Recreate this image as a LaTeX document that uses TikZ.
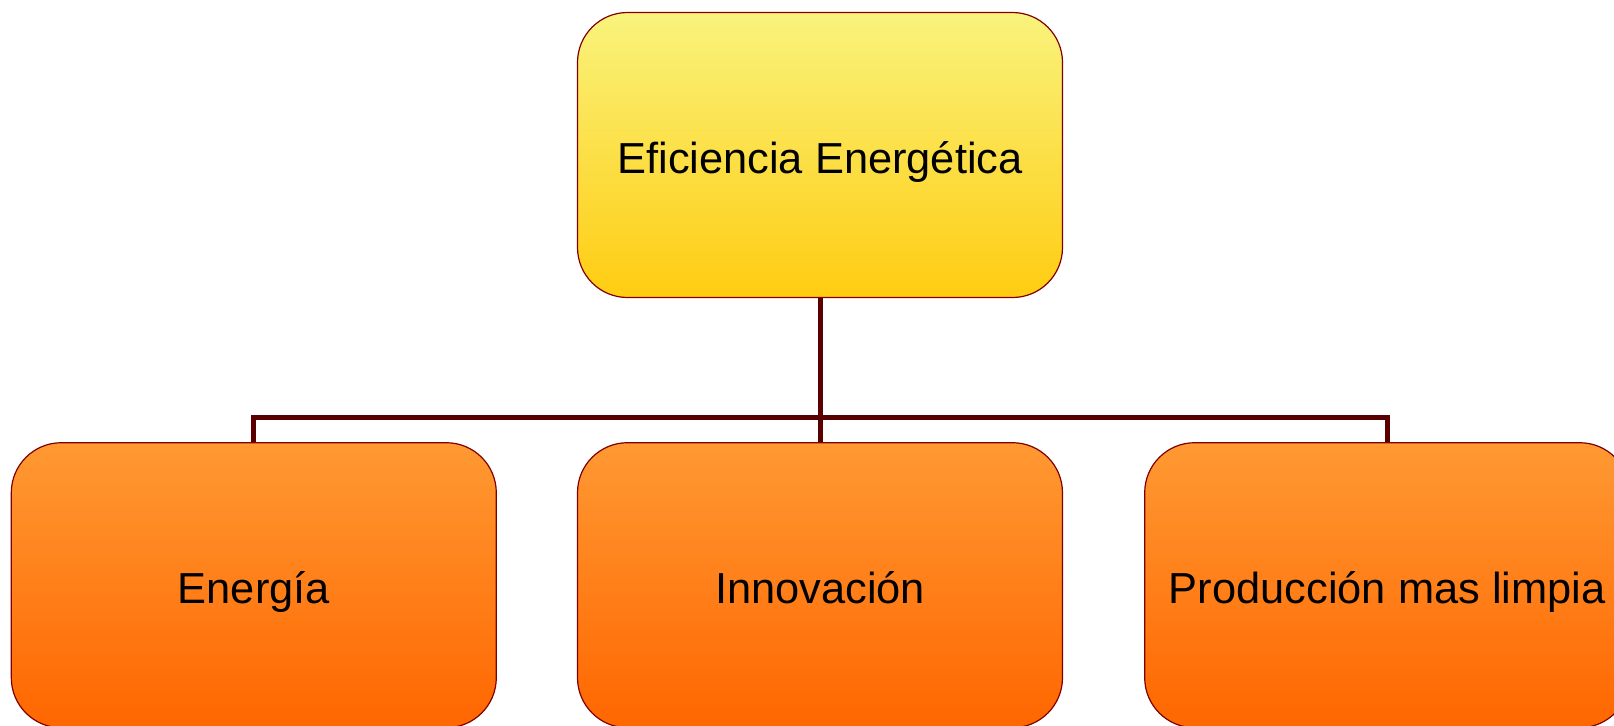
\documentclass[tikz,border=0pt]{standalone}
\usepackage{fontspec}
\setmainfont{Liberation Sans}
\usepackage{tikz}
\usetikzlibrary{positioning}
\definecolor{borde}{RGB}{128,0,0}
\definecolor{linea}{RGB}{90,0,0}
\definecolor{amarilloA}{RGB}{249,243,125}
\definecolor{amarilloB}{RGB}{255,204,17}
\definecolor{naranjaA}{RGB}{255,153,51}
\definecolor{naranjaB}{RGB}{255,102,0}

\begin{document}
\begin{tikzpicture}[node distance=72pt,
  box/.style={rectangle,rounded corners=25pt,draw=borde,line width=0.6pt,
    minimum width=242.5pt,minimum height=142.5pt,inner sep=0pt,
    text height=20pt,text depth=2pt,
    font=\fontsize{21.7}{26}\selectfont},
  main node/.style={box,top color=amarilloA,bottom color=amarilloB},
  child node/.style={box,top color=naranjaA,bottom color=naranjaB},
  link/.style={draw=linea,line width=2.5pt}]

  \useasboundingbox (0,0) rectangle (807pt,-362.5pt);

  \node[main node] (top) at (410pt,-77.5pt) {Eficiencia Energética};
  \node[child node] (innov) [below=of top] {Innovación};
  \node[child node] (energia) [left=40pt of innov] {Energía};
  \node[child node] (prod) [right=40.5pt of innov] {Producción mas limpia};

  \coordinate (bus) at ([yshift=12.5pt]innov.north);
  \draw[link] (top.south) -- (innov.north);
  \draw[link] (energia.north) |- (bus) -| (prod.north);
\end{tikzpicture}
\end{document}
